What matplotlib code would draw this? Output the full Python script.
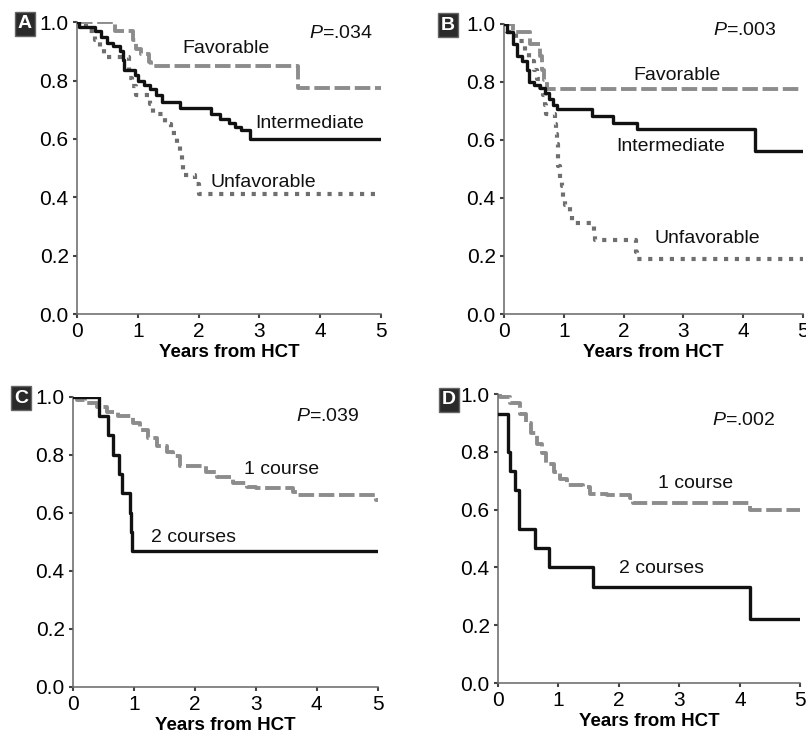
import matplotlib
import matplotlib.pyplot as plt
from matplotlib import font_manager

plt.switch_backend("agg")

# pick a narrow face if there is one
_names = {f.name for f in font_manager.fontManager.ttflist}
FONT = "Liberation Sans Narrow" if "Liberation Sans Narrow" in _names else "Liberation Sans"
plt.rcParams["font.family"] = [FONT, "DejaVu Sans"]
plt.rcParams["mathtext.fontset"] = "custom"
plt.rcParams["mathtext.rm"] = FONT
plt.rcParams["mathtext.it"] = FONT + ":italic"

# ---- data (years, survival) ----
A_FAV_T = [0, 0.62, 0.92, 0.97, 1.05, 1.18, 1.22, 3.63, 5.0]
A_FAV_S = [1.0, 0.97, 0.94, 0.91, 0.89, 0.865, 0.85, 0.775, 0.775]
A_INT_T = [0, 0.03, 0.3, 0.4, 0.5, 0.6, 0.7, 0.75, 0.78, 0.95, 1.0, 1.1, 1.2, 1.3, 1.4,
           1.69, 2.2, 2.35, 2.5, 2.6, 2.7, 2.85, 5.0]
A_INT_S = [1.0, 0.985, 0.97, 0.95, 0.93, 0.92, 0.90, 0.87, 0.835, 0.82, 0.80, 0.785, 0.77,
           0.75, 0.727, 0.705, 0.685, 0.67, 0.655, 0.64, 0.63, 0.60, 0.60]
A_UNF_T = [0, 0.15, 0.3, 0.38, 0.45, 0.85, 0.9, 0.97, 1.2, 1.25, 1.45, 1.55, 1.65, 1.7,
           1.72, 1.75, 1.95, 2.0, 4.95]
A_UNF_S = [1.0, 0.97, 0.94, 0.91, 0.88, 0.81, 0.78, 0.75, 0.72, 0.685, 0.65, 0.62, 0.585,
           0.55, 0.51, 0.475, 0.445, 0.41, 0.41]

B_FAV_T = [0, 0.15, 0.43, 0.6, 0.63, 0.67, 0.72, 5.0]
B_FAV_S = [1.0, 0.97, 0.93, 0.89, 0.84, 0.805, 0.775, 0.775]
B_INT_T = [0, 0.05, 0.15, 0.22, 0.3, 0.38, 0.42, 0.5, 0.6, 0.68, 0.75, 0.82, 0.88,
           1.47, 1.83, 2.22, 4.2, 5.0]
B_INT_S = [1.0, 0.97, 0.93, 0.89, 0.87, 0.84, 0.80, 0.79, 0.78, 0.76, 0.74, 0.72, 0.705,
           0.683, 0.658, 0.638, 0.563, 0.563]
B_UNF_T = [0, 0.05, 0.2, 0.35, 0.42, 0.5, 0.55, 0.6, 0.65, 0.68, 0.7, 0.85, 0.87, 0.88,
           0.9, 0.91, 0.93, 0.97, 0.99, 1.02, 1.1, 1.13, 1.5, 1.52, 2.2, 2.22, 5.0]
B_UNF_S = [1.0, 0.97, 0.94, 0.90, 0.87, 0.84, 0.81, 0.78, 0.755, 0.72, 0.69, 0.655, 0.62,
           0.585, 0.55, 0.51, 0.47, 0.44, 0.40, 0.375, 0.34, 0.315, 0.285, 0.255, 0.215,
           0.19, 0.19]

C_ONE_T = [0, 0.06, 0.2, 0.39, 0.55, 0.74, 0.99, 1.1, 1.23, 1.37, 1.54, 1.64, 1.75, 2.19,
           2.36, 2.63, 2.85, 3.01, 3.61, 3.67, 4.98, 5.0]
C_ONE_S = [1.0, 0.99, 0.98, 0.966, 0.946, 0.932, 0.909, 0.886, 0.858, 0.829, 0.811, 0.794,
           0.76, 0.742, 0.725, 0.702, 0.69, 0.685, 0.673, 0.662, 0.645, 0.645]
C_TWO_T = [0, 0.43, 0.58, 0.66, 0.76, 0.8, 0.93, 0.95, 0.97, 5.0]
C_TWO_S = [1.0, 0.933, 0.867, 0.80, 0.733, 0.667, 0.60, 0.533, 0.467, 0.467]

D_ONE_T = [0, 0.03, 0.2, 0.36, 0.47, 0.55, 0.64, 0.72, 0.8, 0.92, 1.03, 1.14, 1.41, 1.52,
           1.8, 2.19, 2.24, 4.17, 5.0]
D_ONE_S = [1.0, 0.99, 0.968, 0.933, 0.90, 0.864, 0.829, 0.795, 0.76, 0.731, 0.708, 0.685,
           0.679, 0.656, 0.65, 0.639, 0.622, 0.60, 0.60]
D_TWO_T = [0, 0.17, 0.2, 0.28, 0.35, 0.61, 0.85, 1.57, 4.17, 5.0]
D_TWO_S = [0.933, 0.8, 0.733, 0.667, 0.533, 0.467, 0.40, 0.333, 0.222, 0.222]

PANELS = [
    {
        "letter": "A", "rect": [0.0955, 0.5716, 0.377, 0.398], "letter_xy": (25, 24),
        "pval": (".034", 4.87, 0.96),
        "curves": [(A_FAV_T, A_FAV_S, "fav"), (A_INT_T, A_INT_S, "int"), (A_UNF_T, A_UNF_S, "unf")],
        "labels": [("Favorable", 2.45, 0.91), ("Intermediate", 3.83, 0.654), ("Unfavorable", 3.06, 0.452)],
    },
    {
        "letter": "B", "rect": [0.6253, 0.5716, 0.371, 0.396], "letter_xy": (448, 25),
        "pval": (".003", 4.56, 0.977),
        "curves": [(B_FAV_T, B_FAV_S, "fav"), (B_INT_T, B_INT_S, "int"), (B_UNF_T, B_UNF_S, "unf")],
        "labels": [("Favorable", 2.89, 0.82), ("Intermediate", 2.79, 0.577), ("Unfavorable", 3.4, 0.26)],
    },
    {
        "letter": "C", "rect": [0.0906, 0.0628, 0.378, 0.396], "letter_xy": (21, 398),
        "pval": (".039", 4.7, 0.932),
        "curves": [(C_ONE_T, C_ONE_S, "fav"), (C_TWO_T, C_TWO_S, "int")],
        "labels": [("1 course", 3.42, 0.75), ("2 courses", 1.97, 0.514)],
    },
    {
        "letter": "D", "rect": [0.6179, 0.0682, 0.375, 0.394], "letter_xy": (449, 400),
        "pval": (".002", 4.59, 0.91),
        "curves": [(D_ONE_T, D_ONE_S, "fav"), (D_TWO_T, D_TWO_S, "int")],
        "labels": [("1 course", 3.26, 0.691), ("2 courses", 2.7, 0.397)],
    },
]

STYLES = {
    "fav": dict(color="#8c8c8c", linewidth=2.8, linestyle=(0, (4, 1.2)), zorder=2),
    "int": dict(color="#111111", linewidth=2.4, linestyle="-", zorder=3),
    "unf": dict(color="#6f6f6f", linewidth=3.0, linestyle=(0, (1, 1.6)), zorder=1),
}

W, H = 806, 733
fig = plt.figure(figsize=(W / 100, H / 100), dpi=100)

for p in PANELS:
    ax = fig.add_axes(p["rect"])
    for t, s, kind in p["curves"]:
        ax.step(t, s, where="post", **STYLES[kind])
    for txt, x, y in p["labels"]:
        ax.text(x, y, txt, ha="center", va="center", fontsize=14, color="#111111")
    pv, px, py = p["pval"]
    ax.text(px, py, "$\\mathit{P}$=" + pv, ha="right", va="center", fontsize=14,
            color="#111111")

    ax.set_xlim(0, 5)
    ax.set_ylim(0, 1.0)
    ax.set_xticks([0, 1, 2, 3, 4, 5])
    ax.set_yticks([0.0, 0.2, 0.4, 0.6, 0.8, 1.0])
    ax.set_yticklabels(["0.0", "0.2", "0.4", "0.6", "0.8", "1.0"])
    ax.tick_params(labelsize=15, length=3, width=1.5, color="#444444", pad=3)
    for side in ["top", "right"]:
        ax.spines[side].set_visible(False)
    for side in ["left", "bottom"]:
        ax.spines[side].set_color("#666666")
        ax.spines[side].set_linewidth(1.1)
    ax.set_xlabel("Years from HCT", fontsize=13.5, fontweight="bold", labelpad=2)
    ax.patch.set_alpha(0)

    lx, ly = p["letter_xy"]
    fig.text(lx / W, 1 - ly / H, p["letter"], ha="center", va="center", fontsize=14,
             fontweight="bold", color="white",
             bbox=dict(boxstyle="square,pad=0.16", facecolor="#2a2a2a", edgecolor="#666666"))

fig.savefig("out.png", dpi=100)
